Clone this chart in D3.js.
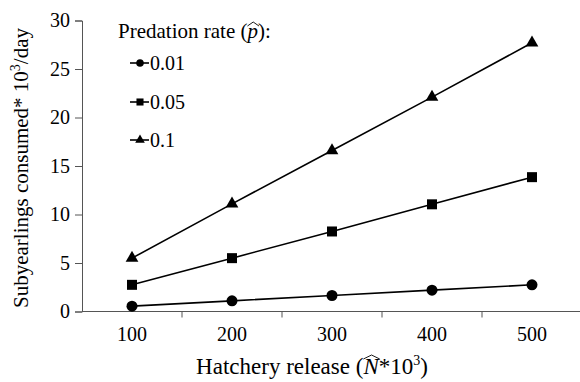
<!DOCTYPE html>
<html><head><meta charset="utf-8">
<script src="https://cdn.jsdelivr.net/npm/d3@7"></script>
</head>
<body style="margin:0;background:#fff"><svg id="c" width="580" height="382" font-family="Liberation Serif"></svg>
<script>
const categories = ["100","200","300","400","500"];
const seriesNames = ["0.01","0.05","0.1"];
const seriesSymbols = ["circle","square","triangle"];
const vals001 = [0.55, 1.1, 1.65, 2.2, 2.75];
const vals005 = [2.75, 5.5, 8.25, 11.05, 13.85];
const vals01 = [5.5, 11.1, 16.6, 22.1, 27.7];
const yTicks = [0,5,10,15,20,25,30];
const seriesValues = [vals001, vals005, vals01];

const FONT = "Liberation Serif";
const svg = d3.select("#c");
const x = d3.scaleBand().domain(categories).range([82, 582]);
const y = d3.scaleLinear().domain([0,30]).range([311.5, 20.5]);

const yAx = svg.append("g").attr("transform","translate(82,0)")
  .call(d3.axisLeft(y).tickValues(yTicks).tickSize(7).tickPadding(5));
const xAx = svg.append("g").attr("transform","translate(0,311.5)")
  .call(d3.axisBottom(x).tickSize(0).tickPadding(15));
[yAx, xAx].forEach(g=>{
  g.attr("font-family",FONT).attr("font-size",20);
  g.selectAll("path").attr("stroke","#555").attr("stroke-width",1);
  g.selectAll("line").attr("stroke","#555");
  g.selectAll("text").attr("font-family",FONT).attr("font-size",20).attr("fill","#000");
});
xAx.select(".domain").attr("d","M82,0H581");
xAx.selectAll(".sep").data(categories).enter().append("line")
  .attr("class","sep")
  .attr("x1",d=>x(d)+x.bandwidth()).attr("x2",d=>x(d)+x.bandwidth())
  .attr("y1",0).attr("y2",6).attr("stroke","#555");

const sym = {circle:d3.symbolCircle, square:d3.symbolSquare, triangle:d3.symbolTriangle};
const sizes = {circle:95, square:100, triangle:70};
const line = d3.line().x((d,i)=>x(categories[i])+x.bandwidth()/2).y(d=>y(d));
seriesValues.forEach((vals,si)=>{
  svg.append("path").attr("d",line(vals)).attr("fill","none").attr("stroke","#000").attr("stroke-width",1.6);
  const s = seriesSymbols[si];
  svg.selectAll(null).data(vals).enter().append("path")
    .attr("d",d3.symbol().type(sym[s]).size(sizes[s]))
    .attr("transform",(d,i)=>`translate(${x(categories[i])+x.bandwidth()/2},${y(d)})`)
    .attr("fill","#000");
});

const lt = svg.append("text").attr("x",118).attr("y",38).attr("font-family",FONT).attr("font-size",21);
lt.append("tspan").text("Predation rate (");
lt.append("tspan").attr("font-style","italic").text("p");
lt.append("tspan").text("):");
function hat(textNode, idx, dy){
  const e = textNode.getExtentOfChar(idx);
  const x0 = e.x, x1 = e.x+e.width+1, top = e.y + dy;
  svg.append("path").attr("d",`M${x0},${top+4}L${(x0+x1)/2},${top}L${x1},${top+4}`)
    .attr("fill","none").attr("stroke","#000").attr("stroke-width",0.9);
}
hat(lt.node(), "Predation rate (".length, 3);

const legY = [63, 102, 140];
const legSizes = {circle:45, square:50, triangle:40};
seriesNames.forEach((n,i)=>{
  svg.append("line").attr("x1",130).attr("x2",149).attr("y1",legY[i]).attr("y2",legY[i]).attr("stroke","#000").attr("stroke-width",1.6);
  const s = seriesSymbols[i];
  svg.append("path").attr("d",d3.symbol().type(sym[s]).size(legSizes[s])).attr("transform",`translate(140,${legY[i]})`);
  svg.append("text").attr("x",150).attr("y",legY[i]+7).attr("font-family",FONT).attr("font-size",20).text(n);
});

const xt = svg.append("text").attr("x",312).attr("y",374).attr("text-anchor","middle").attr("font-family",FONT).attr("font-size",23);
xt.append("tspan").text("Hatchery release (");
xt.append("tspan").attr("font-style","italic").text("N");
xt.append("tspan").text("*10");
xt.append("tspan").attr("dy",-9).attr("font-size",14).text("3");
xt.append("tspan").attr("dy",9).text(")");
hat(xt.node(), "Hatchery release (".length, 1);

const yt = svg.append("text").attr("transform","translate(28,168) rotate(-90)").attr("text-anchor","middle").attr("font-family",FONT).attr("font-size",21);
yt.append("tspan").text("Subyearlings consumed* 10");
yt.append("tspan").attr("dy",-8).attr("font-size",14).text("3");
yt.append("tspan").attr("dy",8).text("/day");
</script></body></html>
